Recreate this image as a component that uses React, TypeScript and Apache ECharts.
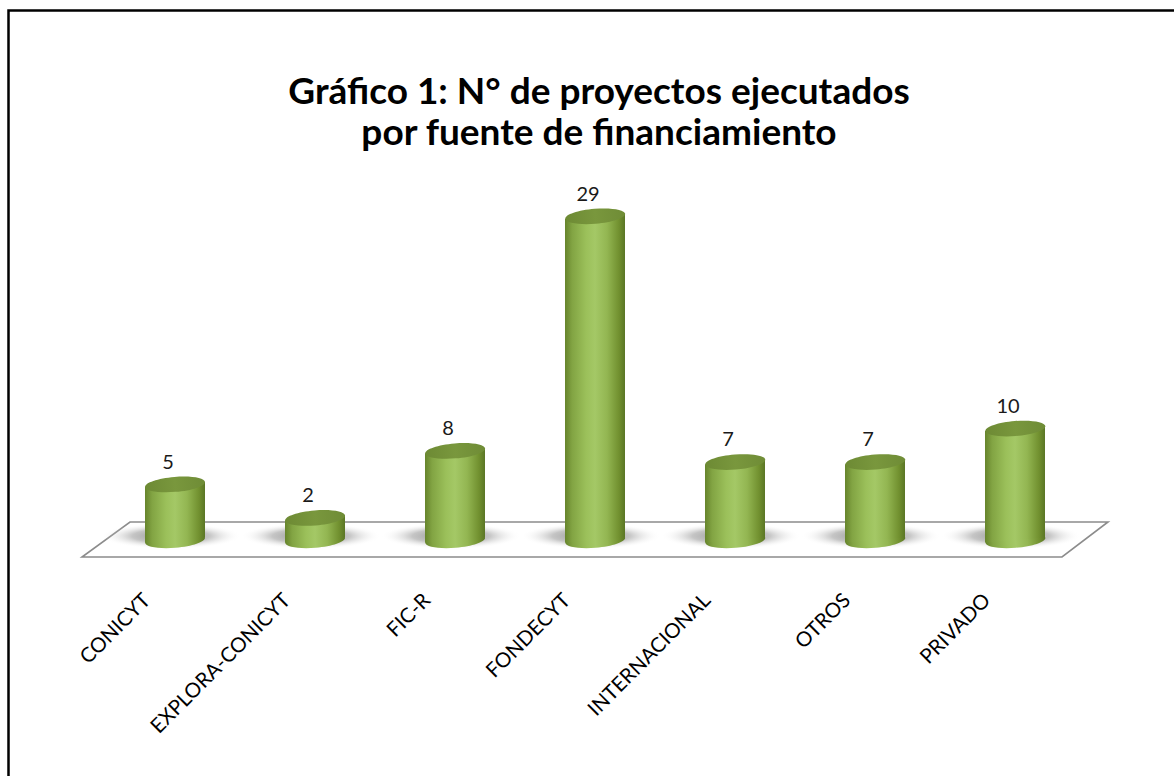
import React, { useEffect, useRef } from "react";
import * as echarts from "echarts";

const categories = ["CONICYT", "EXPLORA-CONICYT", "FIC-R", "FONDECYT", "INTERNACIONAL", "OTROS", "PRIVADO"];
const values = [5, 2, 8, 29, 7, 7, 10];
const titleText = "Gráfico 1: N° de proyectos ejecutados\npor fuente de financiamiento";

const FONT = "Lato, 'Open Sans', sans-serif";

export default function App() {
  const ref = useRef<HTMLDivElement>(null);
  useEffect(() => {
    if (!ref.current) return;
    const chart = echarts.init(ref.current, undefined, { renderer: "svg" });
    const bodyGrad = () =>
      new echarts.graphic.LinearGradient(0, 0, 1, 0, [
        { offset: 0, color: "#66842c" },
        { offset: 0.12, color: "#82a443" },
        { offset: 0.35, color: "#9bc05a" },
        { offset: 0.5, color: "#a4c866" },
        { offset: 0.7, color: "#93b652" },
        { offset: 0.9, color: "#71902f" },
        { offset: 1, color: "#5b7626" },
      ]);
    const topGrad = () =>
      new echarts.graphic.LinearGradient(0, 0, 1, 0, [
        { offset: 0, color: "#6d8a34" },
        { offset: 0.5, color: "#79973d" },
        { offset: 1, color: "#6f8c36" },
      ]);
    const shadowGrad = () =>
      new echarts.graphic.RadialGradient(0.5, 0.5, 0.5, [
        { offset: 0, color: "rgba(70,70,70,0.65)" },
        { offset: 0.55, color: "rgba(110,110,110,0.4)" },
        { offset: 1, color: "rgba(255,255,255,0)" },
      ]);

    const option: any = {
      animation: false,
      backgroundColor: "#ffffff",
      title: {
        text: titleText,
        left: 594,
        textAlign: "center",
        top: 64,
        textStyle: {
          fontFamily: FONT,
          fontSize: 37,
          fontWeight: "bold",
          color: "#000000",
          lineHeight: 41,
        },
      },
      graphic: [
        {
          type: "rect",
          z: -10,
          shape: { x: 8.5, y: 10.5, width: 1180, height: 800 },
          style: { fill: "none", stroke: "#000000", lineWidth: 2.5 },
        },
        {
          type: "polygon",
          z: 0,
          shape: { points: [[130, 522], [1108, 522], [1062, 557], [82, 557]] },
          style: { fill: "#ffffff", stroke: "#8c8c8c", lineWidth: 1.6 },
        },
      ],
      grid: [
        { left: 105, width: 980, top: 205, height: 335 },
        { left: 76, width: 980, top: 205, height: 335 },
      ],
      xAxis: [
        { type: "category", data: categories, gridIndex: 0, show: false },
        {
          type: "category",
          data: categories,
          gridIndex: 1,
          axisLine: { show: false },
          axisTick: { show: false },
          splitLine: { show: false },
          axisLabel: {
            rotate: 45,
            margin: 56,
            interval: 0,
            fontFamily: FONT,
            fontSize: 20.5,
            color: "#000000",
          },
        },
      ],
      yAxis: [
        { type: "value", min: 0, max: 30, gridIndex: 0, show: false },
        { type: "value", min: 0, max: 30, gridIndex: 1, show: false },
      ],
      series: [
        {
          type: "custom",
          xAxisIndex: 0,
          yAxisIndex: 0,
          data: values.map((v, i) => [i, v]),
          renderItem: (params: any, api: any) => {
            const idx = api.value(0);
            const v = api.value(1);
            const top = api.coord([idx, v]);
            const base = api.coord([idx, 0]);
            const rx = 30;
            const ry = 7.5;
            const d = 2.5; // tilt
            const cx = top[0];
            const ty = top[1];
            const by = base[1];
            const rot = Math.atan2(d, rx);
            return {
              type: "group",
              children: [
                {
                  type: "ellipse",
                  shape: { cx: cx - 4, cy: by - 4, rx: rx + 40, ry: 13 },
                  style: { fill: shadowGrad() },
                },
                {
                  type: "ellipse",
                  shape: { cx, cy: by, rx, ry },
                  rotation: rot,
                  originX: cx,
                  originY: by,
                  style: { fill: bodyGrad() },
                },
                {
                  type: "polygon",
                  shape: {
                    points: [
                      [cx - rx, ty + d],
                      [cx + rx, ty - d],
                      [cx + rx, by - d],
                      [cx - rx, by + d],
                    ],
                  },
                  style: { fill: bodyGrad() },
                },
                {
                  type: "ellipse",
                  shape: { cx, cy: ty, rx, ry },
                  rotation: rot,
                  originX: cx,
                  originY: ty,
                  style: { fill: topGrad() },
                },
                {
                  type: "text",
                  x: cx - 7,
                  y: ty - ry - 6,
                  style: {
                    text: String(v),
                    fontFamily: FONT,
                    fontSize: 20,
                    fill: "#1a1a1a",
                    align: "center",
                    verticalAlign: "bottom",
                  },
                },
              ],
            };
          },
        },
      ],
    };
    chart.setOption(option);
    return () => chart.dispose();
  }, []);
  return (
    <div
      ref={ref}
      style={{ position: "absolute", left: 0, top: 0, width: 1174, height: 776 }}
    />
  );
}
